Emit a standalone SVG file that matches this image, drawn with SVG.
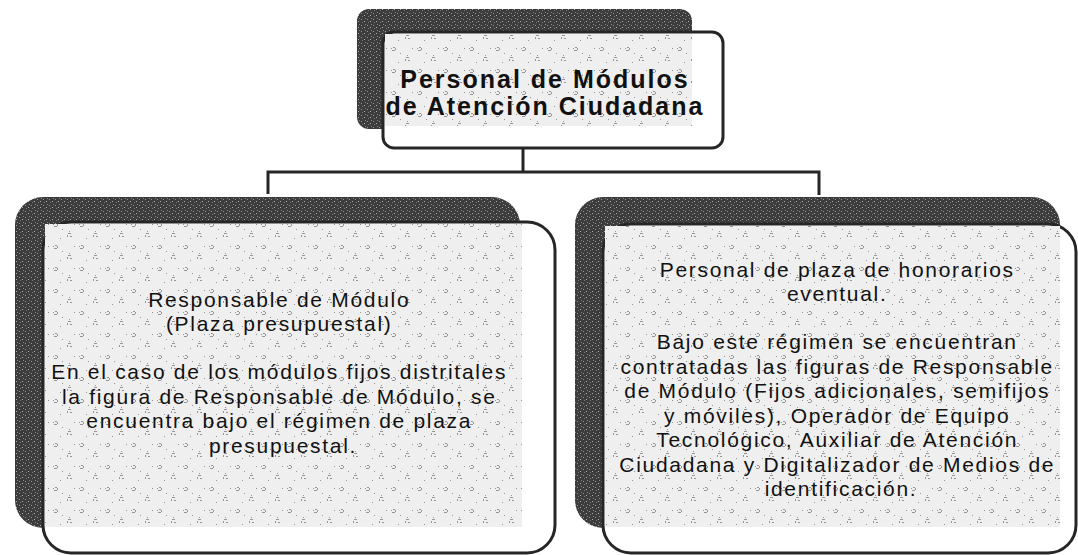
<svg xmlns="http://www.w3.org/2000/svg" width="1078" height="555" viewBox="0 0 1078 555">
  <defs>
    <pattern id="speck" width="26" height="22" patternUnits="userSpaceOnUse">
      <rect width="26" height="22" fill="#efefef"/>
      <g fill="#777" opacity="0.75">
        <rect x="3" y="3" width="2" height="1"/>
        <rect x="5" y="4" width="1" height="2"/>
        <rect x="2" y="6" width="3" height="1"/>
        <rect x="1" y="4" width="1" height="1"/>
        <rect x="16" y="13" width="3" height="1"/>
        <rect x="15" y="15" width="1" height="2"/>
        <rect x="18" y="16" width="2" height="1"/>
        <rect x="17" y="11" width="1" height="1"/>
        <rect x="10" y="9" width="1" height="1"/>
        <rect x="22" y="4" width="1" height="1"/>
        <rect x="8" y="18" width="1" height="1"/>
      </g>
    </pattern>
    <pattern id="dark" width="6" height="6" patternUnits="userSpaceOnUse">
      <rect width="6" height="6" fill="#3c3c3c"/>
      <rect x="1" y="1" width="1" height="1" fill="#9a9a9a"/>
      <rect x="4" y="3" width="1" height="1" fill="#b0b0b0"/>
      <rect x="2" y="4" width="1" height="1" fill="#7a7a7a"/>
      <rect x="5" y="0" width="1" height="1" fill="#888"/>
    </pattern>
  </defs>
  <style>
    .shadow { fill: url(#dark); }
    .front { fill: #ffffff; stroke: #262626; stroke-width: 3; }
    .tex { fill: url(#speck); }
    .conn { fill: none; stroke: #262626; stroke-width: 3; }
    .title { font-family: "Liberation Sans", Arial, sans-serif; font-size: 25px; font-weight: bold; fill: #111; text-anchor: middle; letter-spacing: 2px; }
    .body { font-family: "Liberation Sans", Arial, sans-serif; font-size: 21px; fill: #111; text-anchor: middle; letter-spacing: 1.7px; }
  </style>
  <rect width="1078" height="555" fill="#ffffff"/>

  <g id="connectors">
    <path class="conn" d="M523,148 V172"/>
    <path class="conn" d="M268,194 V172 H819 V195"/>
  </g>

  <g id="node-top">
    <rect class="shadow" x="357" y="9" width="335" height="120" rx="12"/>
    <rect class="front" x="383" y="32" width="340" height="116" rx="11"/>
    <rect class="tex" x="385" y="34" width="307" height="92"/>
    <text class="title" x="545" y="88">Personal de Módulos</text>
    <text class="title" x="545" y="115">de Atención Ciudadana</text>
  </g>

  <g id="node-left">
    <rect class="shadow" x="15" y="197" width="505" height="331" rx="28"/>
    <rect class="front" x="43" y="222" width="512" height="331" rx="28"/>
    <rect class="tex" x="45" y="224" width="477" height="303"/>
    <text class="body">
      <tspan x="283" y="307">Responsable de Módulo</tspan>
      <tspan x="283" y="331">(Plaza presupuestal)</tspan>
      <tspan x="283" y="379">En el caso de los módulos fijos distritales</tspan>
      <tspan x="283" y="403.5">la figura de Responsable de Módulo, se</tspan>
      <tspan x="283" y="428">encuentra bajo el régimen de plaza</tspan>
      <tspan x="283" y="452.5">presupuestal.</tspan>
    </text>
  </g>

  <g id="node-right">
    <rect class="shadow" x="575" y="197" width="485" height="331" rx="28"/>
    <rect class="front" x="603" y="224" width="473" height="329" rx="28"/>
    <rect class="tex" x="605" y="226" width="455" height="301"/>
    <text class="body">
      <tspan x="841" y="277">Personal de plaza de honorarios</tspan>
      <tspan x="841" y="301">eventual.</tspan>
      <tspan x="841" y="349">Bajo este régimen se encuentran</tspan>
      <tspan x="841" y="373.5">contratadas las figuras de Responsable</tspan>
      <tspan x="841" y="398">de Módulo (Fijos adicionales, semifijos</tspan>
      <tspan x="841" y="422.5">y móviles), Operador de Equipo</tspan>
      <tspan x="841" y="447">Tecnológico, Auxiliar de Atención</tspan>
      <tspan x="841" y="471.5">Ciudadana y Digitalizador de Medios de</tspan>
      <tspan x="841" y="496">identificación.</tspan>
    </text>
  </g>
</svg>
